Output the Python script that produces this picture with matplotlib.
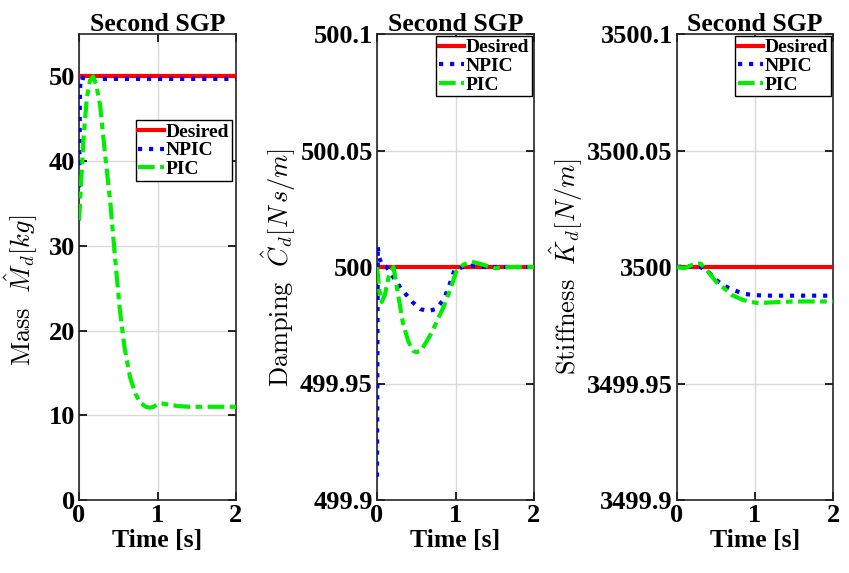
import numpy as np
import matplotlib
matplotlib.use("Agg")
import matplotlib.pyplot as plt

plt.rcParams['font.family'] = ['Liberation Serif', 'DejaVu Serif']
plt.rcParams['font.weight'] = 'bold'
plt.rcParams['mathtext.fontset'] = 'cm'

# ---- Mass panel ----
t_des = [0, 2]
mass_des = [50, 50]
t_mass_npic = [0, 0.005, 0.012, 0.02, 0.05, 0.2, 0.5, 1.0, 2.0]
mass_npic = [33.0, 40.0, 48.0, 49.9, 49.8, 49.7, 49.7, 49.7, 49.7]
t_mass_pic = [0, 0.03, 0.06, 0.1, 0.14, 0.18, 0.22, 0.27, 0.33, 0.4, 0.46, 0.52,
              0.58, 0.65, 0.72, 0.78, 0.85, 0.9, 0.95, 1.0, 1.05, 1.12, 1.25, 1.4, 1.6, 2.0]
mass_pic = [33.0, 38.0, 43.0, 47.5, 49.5, 50.0, 49.0, 46.5, 41.0, 35.0, 28.5, 22.5,
            18.0, 14.5, 12.5, 11.5, 11.0, 10.9, 11.0, 11.3, 11.4, 11.3, 11.1, 11.0, 11.0, 11.0]

# ---- Damping panel ----
damp_des = [500, 500]
t_damp_npic = [0, 0.01, 0.02, 0.06, 0.12, 0.2, 0.3, 0.45, 0.55, 0.65, 0.75, 0.85,
               0.92, 0.99, 1.1, 1.2, 1.35, 1.5, 2.0]
damp_npic = [499.910, 500.009, 500.005, 500.001, 500.000, 499.996, 499.991, 499.985,
             499.982, 499.981, 499.982, 499.986, 499.992, 499.999, 500.000, 500.0005,
             500.000, 500.000, 500.000]
t_damp_pic = [0, 0.03, 0.06, 0.1, 0.15, 0.21, 0.27, 0.33, 0.4, 0.46, 0.5, 0.56,
              0.63, 0.7, 0.78, 0.85, 0.93, 1.01, 1.1, 1.2, 1.3, 1.5, 1.7, 2.0]
damp_pic = [500.000, 499.990, 499.985, 499.988, 499.996, 500.000, 499.988, 499.976,
            499.968, 499.964, 499.9635, 499.964, 499.968, 499.972, 499.978, 499.983,
            499.990, 499.998, 500.001, 500.0023, 500.0015, 499.9995, 500.000, 500.000]

# ---- Stiffness panel ----
stiff_des = [3500, 3500]
t_stiff_npic = [0, 0.1, 0.2, 0.3, 0.4, 0.5, 0.6, 0.7, 0.85, 1.0, 1.2, 1.5, 2.0]
stiff_npic = [3500.000, 3500.0003, 3500.0002, 3500.000, 3499.998, 3499.9945, 3499.992,
              3499.9905, 3499.9885, 3499.9879, 3499.9877, 3499.9877, 3499.9877]
t_stiff_pic = [0, 0.05, 0.1, 0.2, 0.3, 0.4, 0.5, 0.6, 0.7, 0.85, 1.0, 1.05, 1.2, 1.5, 2.0]
stiff_pic = [3500.000, 3499.9997, 3499.9995, 3500.001, 3500.0015, 3499.998, 3499.9937,
             3499.991, 3499.988, 3499.9858, 3499.9847, 3499.9845, 3499.9848, 3499.9852,
             3499.9852]

panels = [
    dict(rect=[79 / 849, 73 / 573, 157 / 849, 466 / 573],
         des=mass_des, npic=(t_mass_npic, mass_npic), pic=(t_mass_pic, mass_pic),
         ylim=(0, 55), yticks=[0, 10, 20, 30, 40, 50], yfmt=None,
         ylabel=r'$\mathrm{Mass}\ \ \hat{M}_d[kg]$', labxy=(-0.25, 0.45),
         legloc=(0.975, 0.815)),
    dict(rect=[377 / 849, 73 / 573, 157 / 849, 466 / 573],
         des=damp_des, npic=(t_damp_npic, damp_npic), pic=(t_damp_pic, damp_pic),
         ylim=(499.9, 500.1), yticks=[499.9, 499.95, 500, 500.05, 500.1],
         yfmt=['499.9', '499.95', '500', '500.05', '500.1'],
         ylabel=r'$\mathrm{Damping}\ \ \hat{C}_d[N\,s/m]$', labxy=(-0.5, 0.5),
         legloc=(0.99, 0.996)),
    dict(rect=[677 / 849, 73 / 573, 156 / 849, 466 / 573],
         des=stiff_des, npic=(t_stiff_npic, stiff_npic), pic=(t_stiff_pic, stiff_pic),
         ylim=(3499.9, 3500.1), yticks=[3499.9, 3499.95, 3500, 3500.05, 3500.1],
         yfmt=['3499.9', '3499.95', '3500', '3500.05', '3500.1'],
         ylabel=r'$\mathrm{Stiffness}\ \ \hat{K}_d[N/m]$', labxy=(-0.59, 0.5),
         legloc=(0.99, 0.996)),
]

fig = plt.figure(figsize=(8.49, 5.73), dpi=100)

for p in panels:
    ax = fig.add_axes(p['rect'])
    ax.plot(t_des, p['des'], color='red', lw=3, label='Desired', zorder=3)
    ax.plot(p['npic'][0], p['npic'][1], color='blue', lw=3, ls=':', label='NPIC', zorder=4)
    ax.plot(p['pic'][0], p['pic'][1], color='#00ee00', lw=3,
            ls=(0, (4, 1.3, 1.6, 1.3)), label='PIC', zorder=5)
    ax.set_xlim(0, 2)
    ax.set_ylim(*p['ylim'])
    ax.set_xticks([0, 1, 2])
    ax.set_yticks(p['yticks'])
    if p['yfmt']:
        ax.set_yticklabels(p['yfmt'])
    ax.tick_params(direction='in', top=True, right=True, labelsize=19, length=6,
                   width=1.2, pad=3)
    for lab in ax.get_xticklabels() + ax.get_yticklabels():
        lab.set_fontweight('bold')
    ax.grid(True, color='#d9d9d9', lw=1)
    ax.set_axisbelow(True)
    for s in ax.spines.values():
        s.set_linewidth(1.2)
        s.set_color('#262626')
    ax.set_title('Second SGP', fontsize=18.5, fontweight='bold', pad=2)
    ax.set_xlabel('Time [s]', fontsize=18.5, fontweight='bold', labelpad=1)
    ax.set_ylabel(p['ylabel'], fontsize=19, fontweight='normal')
    ax.yaxis.set_label_coords(*p['labxy'])
    leg = ax.legend(loc='upper right', bbox_to_anchor=p['legloc'],
                    prop={'weight': 'bold', 'size': 14}, handlelength=1.3,
                    handletextpad=0.1, borderpad=0.15, labelspacing=0.05,
                    borderaxespad=0, fancybox=False, framealpha=1)
    leg.get_frame().set_edgecolor('black')
    leg.get_frame().set_linewidth(1.0)

fig.savefig('out.png', dpi=100)
